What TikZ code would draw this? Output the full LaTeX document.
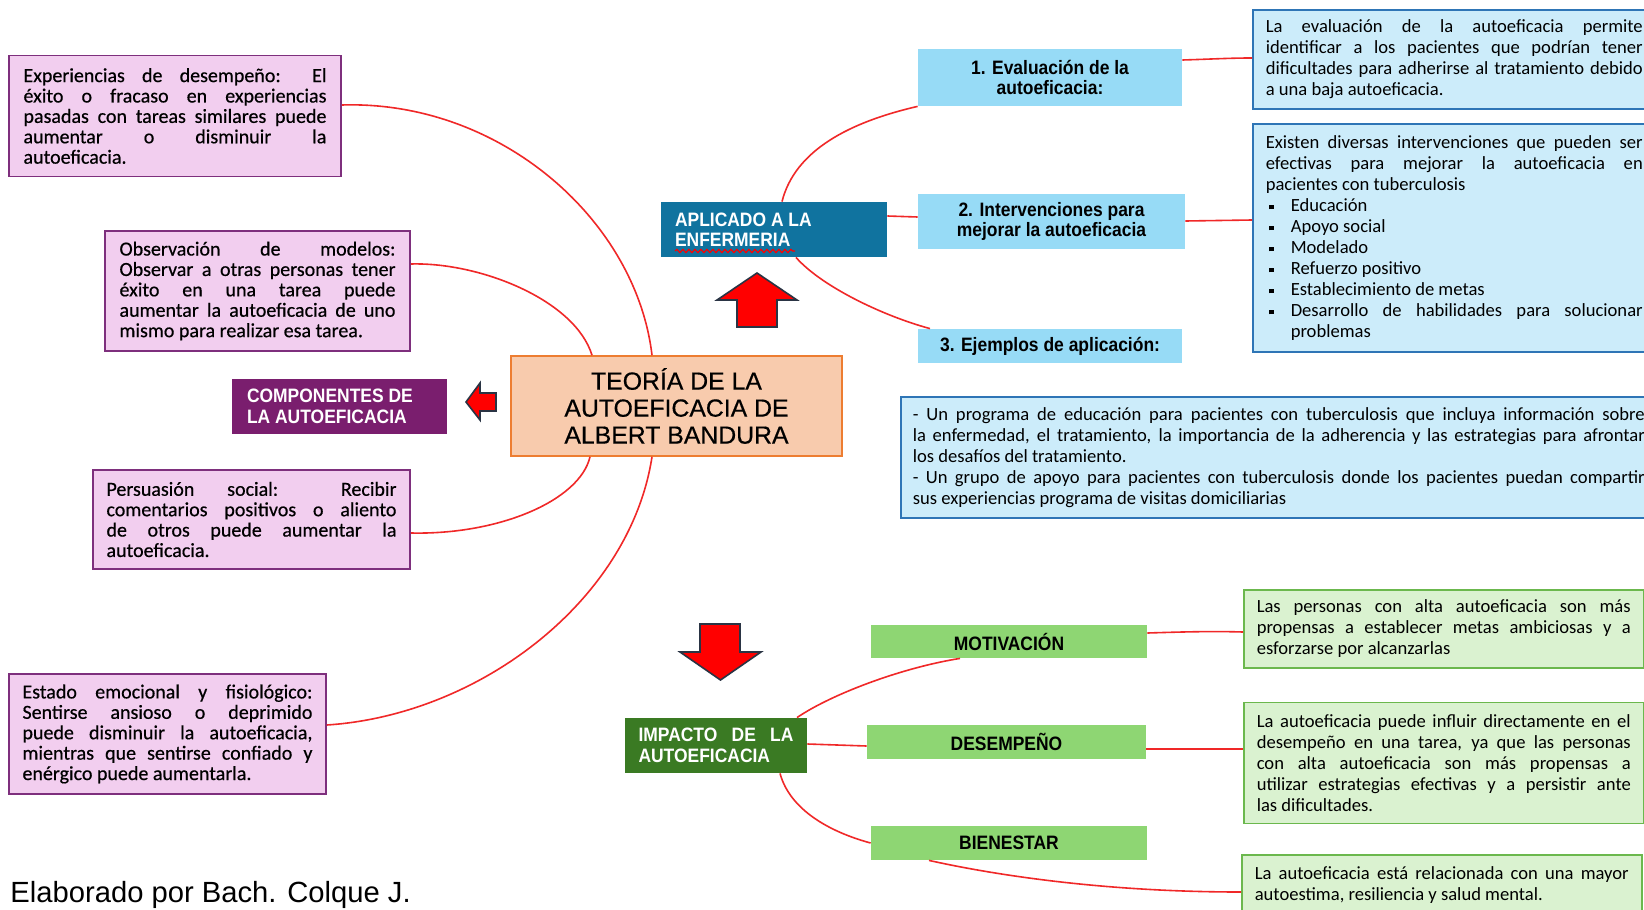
\documentclass[tikz,border=0pt]{standalone}
\usepackage{fontspec}
\setmainfont{Carlito}
\newfontfamily\purpfont[FakeBold=0.5]{Carlito}
\newfontfamily\arialn[FakeStretch=0.9]{Liberation Sans}
\newfontfamily\arial{Liberation Sans}
\newfontfamily\titlefont[FakeBold=0.5]{Liberation Sans}
\usetikzlibrary{decorations.pathmorphing}
\hyphenpenalty=10000
\exhyphenpenalty=10000
\tolerance=10000
\hbadness=10000
\definecolor{purpFill}{HTML}{F2CEEF}
\definecolor{purpDraw}{HTML}{7E2F7D}
\definecolor{compFill}{HTML}{7A1E6E}
\definecolor{mainFill}{HTML}{F8CBAD}
\definecolor{mainDraw}{HTML}{ED7D31}
\definecolor{aplFill}{HTML}{10739F}
\definecolor{bnodeFill}{HTML}{97DBF6}
\definecolor{bdescFill}{HTML}{CCECFA}
\definecolor{bdescDraw}{HTML}{2E75B6}
\definecolor{impFill}{HTML}{3A7A23}
\definecolor{gnodeFill}{HTML}{8ED673}
\definecolor{gdescFill}{HTML}{DAF2D0}
\definecolor{gdescDraw}{HTML}{6BB84D}
\definecolor{lineRed}{HTML}{F02828}
\definecolor{arrowEdge}{HTML}{2A3444}
\newcommand{\sqbul}{\makebox[12.5pt][l]{\hspace{1.5pt}\rule[1pt]{2.4pt}{2.4pt}}}
\newcommand{\bitem}[1]{{\leftskip=12.5pt\noindent\hspace*{-12.5pt}\sqbul #1\par}}
\tikzset{
  purp/.style={draw=purpDraw, fill=purpFill, line width=0.8pt, inner sep=0pt, align=justify,
    font=\purpfont\fontsize{10}{10.2}\selectfont},
  labelbox/.style={inner sep=0pt, text=white, font=\arialn\bfseries\fontsize{9.7}{10.2}\selectfont},
  fixedspace/.style={execute at begin node={\spaceskip=0.25em\relax}},
  bnode/.style={fill=bnodeFill, inner sep=0pt, align=center, font=\arialn\bfseries\fontsize{9.7}{10.4}\selectfont},
  gnode/.style={fill=gnodeFill, inner sep=0pt, align=center, font=\arialn\bfseries\fontsize{9.7}{10.4}\selectfont},
  bdesc/.style={draw=bdescDraw, fill=bdescFill, line width=0.75pt, anchor=west, inner ysep=0pt,
    inner xsep=6.5pt, align=justify, font=\fontsize{9.3}{10.5}\selectfont},
  gdesc/.style={draw=gdescDraw, fill=gdescFill, line width=0.75pt, anchor=west, inner ysep=0pt,
    inner xsep=6.5pt, text width=187pt, align=justify, font=\fontsize{9.3}{10.5}\selectfont},
  conn/.style={draw=lineRed, line width=0.8pt},
  blockarrow/.style={fill=red, draw=arrowEdge, line width=0.8pt, line join=miter}
}
\begin{document}
\begin{tikzpicture}[x=0.5pt,y=-0.5pt]
\useasboundingbox (0,0) rectangle (1644,910);
\fill[white] (0,0) rectangle (1644,910);
\clip (0,0) rectangle (1644,910);

% left components
\node[purp, text width=151.5pt, minimum width=166pt, minimum height=60.5pt] (expA) at (175,116)
 {Experiencias de desempeño: El\linebreak éxito o fracaso en experiencias\linebreak pasadas con tareas similares puede\linebreak aumentar o disminuir la\linebreak autoeficacia.};
\node[purp, text width=138pt, minimum width=152.5pt, minimum height=60pt] (obs) at (257.5,291)
 {Observación de modelos:\linebreak Observar a otras personas tener\linebreak éxito en una tarea puede\linebreak aumentar la autoeficacia de uno\linebreak mismo para realizar esa tarea.};
\node[purp, text width=145pt, minimum width=158.5pt, minimum height=49.5pt] (pers) at (251.5,519.5)
 {Persuasión social: Recibir\linebreak comentarios positivos o aliento\linebreak de otros puede aumentar la\linebreak autoeficacia.};
\node[purp, text width=145pt, minimum width=158.5pt, minimum height=60pt] (emo) at (167.5,734)
 {Estado emocional y fisiológico:\linebreak Sentirse ansioso o deprimido\linebreak puede disminuir la autoeficacia,\linebreak mientras que sentirse confiado y\linebreak enérgico puede aumentarla.};

\node[labelbox, fixedspace, fill=compFill, text width=92.5pt, align=left, minimum width=107.5pt, minimum height=27.5pt] (comp) at (339.5,406.5)
 {COMPONENTES DE\\LA AUTOEFICACIA};

% main
\node[draw=mainDraw, fill=mainFill, line width=0.8pt, inner sep=0pt, align=center,
  minimum width=165.5pt, minimum height=50pt, font=\titlefont\fontsize{12.4}{13.5}\selectfont] (main) at (676.5,406)
 {TEORÍA DE LA\\AUTOEFICACIA DE\\ALBERT BANDURA};

% application branch
\node[labelbox, fixedspace, fill=aplFill, text width=99pt, align=left, minimum width=113pt, minimum height=27.5pt] (apl) at (774,229.5)
 {APLICADO A LA\\ENFERMERIA};
\draw[red, line width=0.6pt, decorate, decoration={snake, amplitude=0.8pt, segment length=3pt}]
  (675,251) -- (795,251);

\node[bnode, minimum width=132pt, minimum height=28.5pt] (ev) at (1050,77.5) {1. Evaluación de la\\autoeficacia:};
\node[bnode, minimum width=133.5pt, minimum height=27.5pt] (iv) at (1051.5,221.5) {2. Intervenciones para\\mejorar la autoeficacia};
\node[bnode, minimum width=132pt, minimum height=17pt] (ej) at (1050,346) {3. Ejemplos de aplicación:};

\node[bdesc, text width=188.5pt, minimum height=49.5pt] (evd) at (1252,59.5)
 {La evaluación de la autoeficacia permite\linebreak identificar a los pacientes que podrían tener\linebreak dificultades para adherirse al tratamiento debido\linebreak a una baja autoeficacia.};
\node[bdesc, text width=188.5pt, minimum height=114pt] (ivd) at (1252,238)
 {Existen diversas intervenciones que pueden ser\linebreak efectivas para mejorar la autoeficacia en\linebreak pacientes con tuberculosis\par
  \bitem{Educación}
  \bitem{Apoyo social}
  \bitem{Modelado}
  \bitem{Refuerzo positivo}
  \bitem{Establecimiento de metas}
  \bitem{Desarrollo de habilidades para solucionar\linebreak problemas}};
\node[bdesc, inner xsep=6pt, text width=366pt, minimum height=60.5pt] (ejd) at (900,457.5)
 {- Un programa de educación para pacientes con tuberculosis que incluya información sobre\linebreak la enfermedad, el tratamiento, la importancia de la adherencia y las estrategias para afrontar\linebreak los desafíos del tratamiento.\par
  \noindent - Un grupo de apoyo para pacientes con tuberculosis donde los pacientes puedan compartir\linebreak sus experiencias programa de visitas domiciliarias};

% impact branch
\node[labelbox, fill=impFill, text width=77.5pt, align=justify, minimum width=91pt, minimum height=27.5pt] (imp) at (716,745.5)
 {IMPACTO DE LA\linebreak AUTOEFICACIA};
\node[gnode, minimum width=138pt, minimum height=16.5pt] (mot) at (1009,641.5) {MOTIVACIÓN};
\node[gnode, minimum width=139.5pt, minimum height=17pt] (des) at (1006.5,742) {DESEMPEÑO};
\node[gnode, minimum width=138pt, minimum height=17pt] (bie) at (1009,843) {BIENESTAR};

\node[gdesc, minimum height=39pt] (motd) at (1243,629)
 {Las personas con alta autoeficacia son más\linebreak propensas a establecer metas ambiciosas y a\linebreak esforzarse por alcanzarlas};
\node[gdesc, minimum height=60.5pt] (desd) at (1243,763)
 {La autoeficacia puede influir directamente en el\linebreak desempeño en una tarea, ya que las personas\linebreak con alta autoeficacia son más propensas a\linebreak utilizar estrategias efectivas y a persistir ante\linebreak las dificultades.};
\node[gdesc, minimum height=30pt] (bied) at (1241,885)
 {La autoeficacia está relacionada con una mayor\linebreak autoestima, resiliencia y salud mental.};

% block arrows
\draw[blockarrow] (757,273) -- (797,300) -- (777,300) -- (777,327) -- (737,327) -- (737,300) -- (717,300) -- cycle;
\draw[blockarrow] (700,624) -- (740,624) -- (740,652) -- (761,652) -- (720.5,680) -- (680,652) -- (700,652) -- cycle;
\draw[blockarrow] (466,402) -- (480,383) -- (480,393) -- (496,393) -- (496,411) -- (480,411) -- (480,420) -- cycle;

% connectors
\draw[conn] (expA.east |- 0,105) .. controls (500,100) and (636,220) .. (main.north -| 652,0);
\draw[conn] (obs.east |- 0,264) .. controls (480,262) and (575,300) .. (main.north -| 592,0);
\draw[conn] (pers.east |- 0,533) .. controls (500,535) and (580,500) .. (main.south -| 590,0);
\draw[conn] (emo.east |- 0,725) .. controls (480,715) and (630,600) .. (main.south -| 652,0);

\draw[conn] (apl.north -| 782,0) .. controls (795,150) and (850,122) .. (ev.south west);
\draw[conn] (apl.east |- 0,216) -- (iv.west |- 0,217);
\draw[conn] (apl.south -| 796,0) .. controls (820,285) and (880,315) .. (ej.north -| 930,0);
\draw[conn] (ev.east |- 0,60) .. controls (1215,59) and (1230,58) .. (evd.west |- 0,58);
\draw[conn] (iv.east |- 0,221) -- (ivd.west |- 0,220);

\draw[conn] (imp.north -| 797,0) .. controls (830,695) and (900,668) .. (mot.south -| 960,0);
\draw[conn] (imp.east |- 0,744) -- (des.west |- 0,746);
\draw[conn] (imp.south -| 780,0) .. controls (790,810) and (830,832) .. (bie.west);
\draw[conn] (bie.south -| 929,0) .. controls (990,874) and (1100,892) .. (bied.west |- 0,892);
\draw[conn] (mot.east |- 0,633) .. controls (1180,632) and (1210,631) .. (motd.west |- 0,632);
\draw[conn] (des.east |- 0,749) -- (desd.west |- 0,749);

% credit
\node[anchor=base west, inner sep=0pt, font=\arial\fontsize{14.6}{16}\selectfont] (credit) at (10,902)
 {Elaborado por Bach. Colque J.};
\end{tikzpicture}
\end{document}
